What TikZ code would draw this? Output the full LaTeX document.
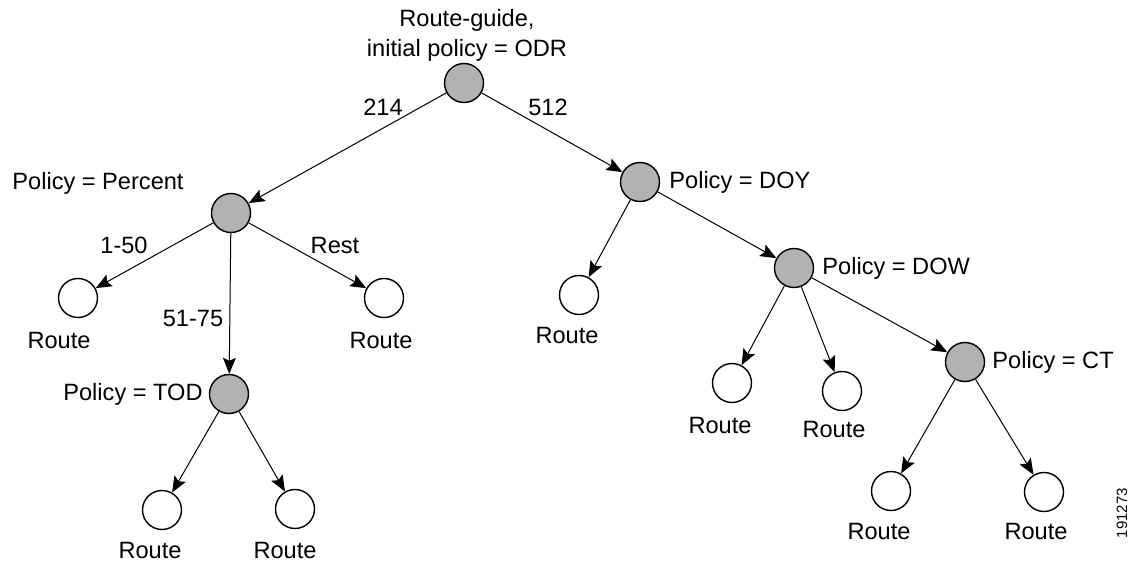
\documentclass[tikz,border=0pt]{standalone}
\usepackage{fontspec}
\setmainfont{Liberation Sans}
\usetikzlibrary{arrows.meta}
\definecolor{nodegray}{RGB}{178,178,178}
\tikzset{
  pnode/.style={circle,draw=black,line width=0.7pt,fill=nodegray,minimum size=19.5pt,inner sep=0pt},
  rnode/.style={circle,draw=black,line width=0.7pt,fill=white,minimum size=19.5pt,inner sep=0pt},
  lbl/.style={inner sep=0pt,font=\fontsize{11.8}{14}\selectfont},
  edge/.style={line width=0.5pt,-{Stealth[length=8pt,width=6.5pt,inset=1.5pt]}}
}
\begin{document}
\begin{tikzpicture}[x=0.5pt,y=-0.5pt]
\useasboundingbox (0,0) rectangle (1135,561);
% decision nodes
\node[pnode] (root) at (464,83) {};
\node[pnode] (pct) at (231,213) {};
\node[pnode] (doy) at (640,182) {};
\node[pnode] (dow) at (794,268) {};
\node[pnode] (ct) at (965,362) {};
\node[pnode] (tod) at (229,394) {};
% route nodes
\node[rnode] (r1) at (78,298) {};
\node[rnode] (r2) at (384,298) {};
\node[rnode] (r3) at (162,510) {};
\node[rnode] (r4) at (295,509) {};
\node[rnode] (r5) at (579,295) {};
\node[rnode] (r6) at (732,383) {};
\node[rnode] (r7) at (842,391) {};
\node[rnode] (r8) at (891,491) {};
\node[rnode] (r9) at (1044,492) {};
% edges
\draw[edge] (root) -- (pct);
\draw[edge] (root) -- (doy);
\draw[edge] (pct) -- (r1);
\draw[edge] (pct) -- (tod);
\draw[edge] (pct) -- (r2);
\draw[edge] (tod) -- (r3);
\draw[edge] (tod) -- (r4);
\draw[edge] (doy) -- (r5);
\draw[edge] (doy) -- (dow);
\draw[edge] (dow) -- (r6);
\draw[edge] (dow) -- (r7);
\draw[edge] (dow) -- (ct);
\draw[edge] (ct) -- (r8);
\draw[edge] (ct) -- (r9);
% node labels
\node[lbl] (trootA) at (467,20) {Route-guide,};
\node[lbl] (trootB) at (467,50) {initial policy = ODR};
\node[lbl] (tpct) at (98,183) {Policy = Percent};
\node[lbl,anchor=west] (tdoy) at (669,182) {Policy = DOY};
\node[lbl,anchor=west] (tdow) at (822,268) {Policy = DOW};
\node[lbl,anchor=west] (tct) at (992,362) {Policy = CT};
\node[lbl,anchor=east] (ttod) at (203,394) {Policy = TOD};
% edge labels
\node[lbl] (e214) at (383,107) {214};
\node[lbl] (e512) at (548,107) {512};
\node[lbl] (e150) at (124,245) {1-50};
\node[lbl] (erest) at (335,245) {Rest};
\node[lbl] (e5175) at (193,318) {51-75};
% route labels
\node[lbl] (l1) at (59,340) {Route};
\node[lbl] (l2) at (381,340) {Route};
\node[lbl] (l3) at (150,550) {Route};
\node[lbl] (l4) at (285,550) {Route};
\node[lbl] (l5) at (567,335) {Route};
\node[lbl] (l6) at (720,425) {Route};
\node[lbl] (l7) at (834,429) {Route};
\node[lbl] (l8) at (879,531) {Route};
\node[lbl] (l9) at (1036,531) {Route};
% figure number
\node[lbl,rotate=90,font=\fontsize{7.5}{9}\selectfont] (fig) at (1122,513) {191273};
\end{tikzpicture}
\end{document}
